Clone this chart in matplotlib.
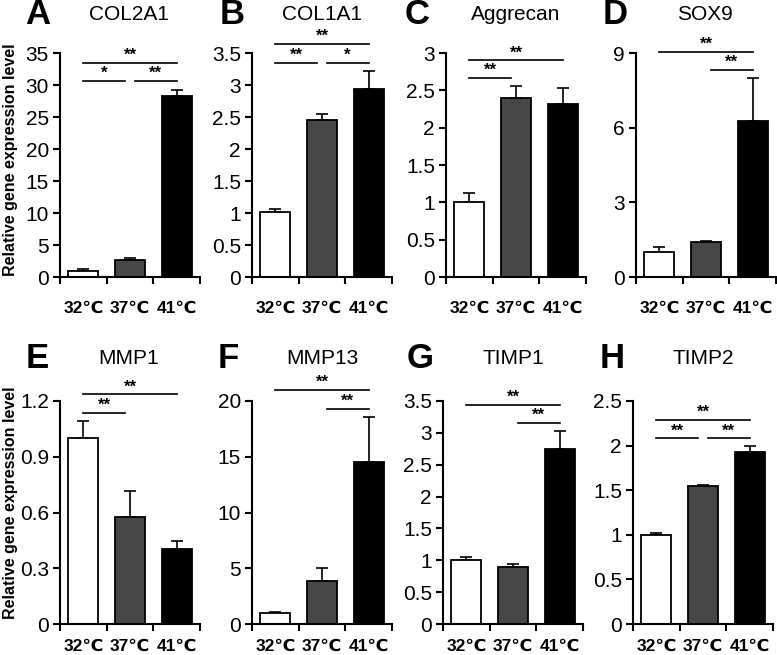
import matplotlib
matplotlib.use("Agg")
import matplotlib.pyplot as plt
import numpy as np

plt.rcParams['font.family'] = ['Liberation Sans', 'DejaVu Sans']

""" Data """
temps = ["32℃", "37℃", "41℃"]
genes = ["COL2A1", "COL1A1", "Aggrecan", "SOX9", "MMP1", "MMP13", "TIMP1", "TIMP2"]
letters = ["A", "B", "C", "D", "E", "F", "G", "H"]

means = [
    [1.0, 2.6, 28.3],
    [1.01, 2.46, 2.94],
    [1.0, 2.40, 2.32],
    [1.0, 1.40, 6.25],
    [1.0, 0.575, 0.405],
    [1.0, 3.9, 14.5],
    [1.0, 0.90, 2.75],
    [1.0, 1.55, 1.93],
]
errs = [
    [0.25, 0.35, 0.9],
    [0.05, 0.08, 0.28],
    [0.13, 0.16, 0.21],
    [0.2, 0.04, 1.75],
    [0.09, 0.14, 0.04],
    [0.1, 1.1, 4.1],
    [0.05, 0.04, 0.28],
    [0.02, 0.01, 0.06],
]
ymax = [35, 3.5, 3, 9, 1.2, 20, 3.5, 2.5]
ystep = [5, 0.5, 0.5, 3, 0.3, 5, 0.5, 0.5]

# significance brackets: (start, end, height, label)
sig = [
    [(0, 2, 33.4, "**"), (0, 0.9, 30.6, "*"), (1.1, 2, 30.6, "**")],
    [(0, 2, 3.64, "**"), (0, 0.9, 3.34, "**"), (1.1, 2, 3.34, "*")],
    [(0, 2, 2.90, "**"), (0, 0.9, 2.67, "**")],
    [(0, 2, 9.04, "**"), (1.1, 2, 8.32, "**")],
    [(0, 2, 1.236, "**"), (0, 0.9, 1.134, "**")],
    [(0, 2, 20.98, "**"), (1.1, 2, 19.3, "**")],
    [(0, 2, 3.44, "**"), (1.1, 2, 3.16, "**")],
    [(0, 2, 2.29, "**"), (0, 0.9, 2.08, "**"), (1.1, 2, 2.08, "**")],
]

colors = ["white", "#474747", "black"]

W, H = 777, 655
fig = plt.figure(figsize=(W / 100, H / 100), dpi=100)

lefts = [60, 252, 446, 636, 60, 252, 443, 633]
tops = [53, 53, 53, 53, 401, 401, 401, 401]
bottoms = [277, 277, 277, 277, 624, 624, 624, 624]
letter_x = [38, 232, 417, 615, 37, 228, 420, 612]
title_x = [129, 322, 516, 705, 129, 322, 513, 703]

for i in range(8):
    ax = fig.add_axes([lefts[i] / W, 1 - bottoms[i] / H, 140 / W,
                       (bottoms[i] - tops[i]) / H])
    x = np.arange(3)
    lower = np.zeros(3)
    ax.errorbar(x, means[i], yerr=[lower, errs[i]], fmt="none", ecolor="black",
                elinewidth=1.2, capsize=4, capthick=1.2, zorder=1)
    ax.bar(x, means[i], width=0.64, color=colors, edgecolor="black",
           linewidth=1.3, zorder=2)
    ax.set_xlim(-0.5, 2.5)
    ax.set_ylim(0, ymax[i])
    ax.set_yticks(np.arange(0, ymax[i] + ystep[i] / 2, ystep[i]))
    ax.set_yticklabels(["{:g}".format(v) for v in ax.get_yticks()], fontsize=15)
    ax.set_xticks([-0.5, 0.5, 1.5, 2.5])
    ax.set_xticklabels([])
    ax.set_xticks(x, minor=True)
    ax.set_xticklabels(temps, minor=True, fontsize=12.5, fontweight="bold",
                       family=['Liberation Sans', 'DejaVu Sans'])
    ax.tick_params(axis="x", which="minor", length=0, pad=17 if i < 4 else 11)
    ax.tick_params(axis="x", which="major", length=5, width=1.5)
    ax.tick_params(axis="y", length=5, width=1.5, pad=3)
    for s in ["top", "right"]:
        ax.spines[s].set_visible(False)
    for s in ["left", "bottom"]:
        ax.spines[s].set_linewidth(1.5)

    for (a, b, h, lab) in sig[i]:
        ax.plot([a, b], [h, h], color="black", lw=1.2, clip_on=False)
        ax.text((a + b) / 2, h, lab, ha="center", va="bottom", fontsize=12,
                fontweight="bold", clip_on=False)

    ty = 15 if i < 4 else 358
    fig.text(letter_x[i] / W, 1 - ty / H, letters[i], fontsize=25,
             fontweight="bold", ha="center", va="center")
    fig.text(title_x[i] / W, 1 - ty / H, genes[i], fontsize=15,
             ha="center", va="center")

fig.text(11 / W, 1 - 160 / H, "Relative gene expression level", rotation=90,
         fontsize=11.5, fontweight="bold", ha="center", va="center")
fig.text(11 / W, 1 - 503 / H, "Relative gene expression level", rotation=90,
         fontsize=11.5, fontweight="bold", ha="center", va="center")

fig.savefig("out.png", dpi=100)
